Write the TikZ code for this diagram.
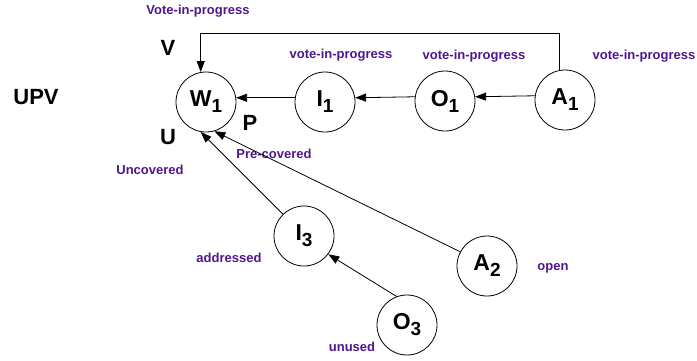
\documentclass[tikz,border=0pt]{standalone}
\usepackage{fontspec}
\setmainfont{Liberation Sans}
\usetikzlibrary{arrows.meta}
\definecolor{lblpurple}{RGB}{78,22,140}
\newcommand{\nodetext}[2]{#1\raisebox{-6pt}{\fontsize{19}{19}\selectfont #2}}
\begin{document}
\begin{tikzpicture}[x=1pt,y=-1pt,
  state/.style={circle,draw,line width=0.8pt,minimum size=60pt,inner sep=0pt,
    font=\fontsize{23}{23}\selectfont\bfseries},
  tag/.style={font=\fontsize{13}{15}\selectfont\bfseries,text=lblpurple,inner sep=0pt},
  big/.style={font=\fontsize{22}{22}\selectfont\bfseries,inner sep=0pt},
  link/.style={line width=0.8pt,-{Triangle[length=11pt,width=8pt]}}]
\useasboundingbox (0,0) rectangle (697,360);

% states
\node[state] (W1) at (206,102) {\nodetext{W}{1}};
\node[state] (I1) at (325,102) {\nodetext{I}{1}};
\node[state] (O1) at (445,101) {\nodetext{O}{1}};
\node[state] (A1) at (565,100) {\nodetext{A}{1}};
\node[state] (I3) at (304,236) {\nodetext{I}{3}};
\node[state] (A2) at (487,266) {\nodetext{A}{2}};
\node[state] (O3) at (407,325) {\nodetext{O}{3}};

% region letters
\node[big] (upv) at (36,97) {UPV};
\node[big] (v) at (168,48) {V};
\node[big] (u) at (168,137) {U};
\node[big] (p) at (250,123) {P};

% state descriptions
\node[tag] (t0) at (198,11) {Vote-in-progress};
\node[tag] (t1) at (341,55) {vote-in-progress};
\node[tag] (t2) at (474,56) {vote-in-progress};
\node[tag] (t3) at (644,56) {vote-in-progress};
\node[tag] (t4) at (274,154) {Pre-covered};
\node[tag] (t5) at (150,170) {Uncovered};
\node[tag] (t6) at (229,258) {addressed};
\node[tag] (t7) at (553,268) {open};
\node[tag] (t8) at (352,347) {unused};

% transitions
\coordinate (topline) at (0,33);
\draw[link] (A1.100) -- (A1.100 |- topline) -| (W1.100);
\draw[link] (I1.172) -- (W1.8);
\draw[link] (O1.172) -- (I1.8);
\draw[link] (A1.172) -- (O1.8);
\draw[link] (I3.134) -- (W1.-100);
\draw[link] (A2.152) -- (W1.-74);
\draw[link] (O3.110) -- (I3.-37);
\end{tikzpicture}
\end{document}
